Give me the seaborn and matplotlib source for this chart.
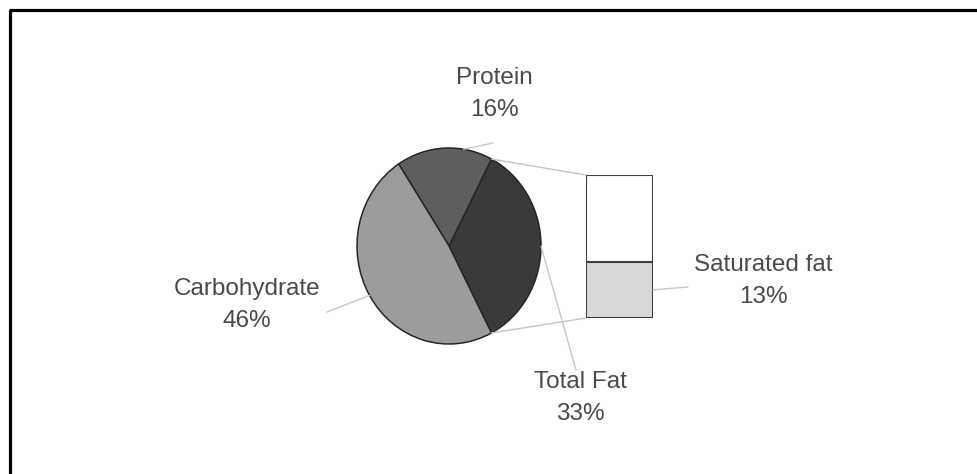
import numpy as np
import pandas as pd
import seaborn as sns
import matplotlib
matplotlib.use("Agg")
import matplotlib.pyplot as plt
from matplotlib.lines import Line2D
from matplotlib.patches import ConnectionPatch

# Energy composition of the diet (percent of calories)
nutrients = ["Total Fat", "Protein", "Carbohydrate"]
shares = [33, 16, 46]
pct_labels = ["33%", "16%", "46%"]

# Breakdown of the fat portion
fat_total = 33
fat_parts = ["Saturated fat", "Other fat"]
fat_values = [13, 20]
sat_label = "13%"

sns.set_theme(style="white")
plt.rcParams["font.family"] = ["Liberation Sans", "DejaVu Sans"]

W, H = 977, 474
fig = plt.figure(figsize=(W / 100, H / 100), dpi=100)
fig.patch.set_facecolor("white")

def px_box(x0, y0, x1, y1):
    """Axes rectangle given in pixel coordinates measured from the top-left."""
    return [x0 / W, 1 - y1 / H, (x1 - x0) / W, (y1 - y0) / H]

pie_colors = ["#3a3a3a", "#5e5e5e", "#9c9c9c"]
ax_pie = fig.add_axes(px_box(357, 148, 541, 344))
start = -360 * shares[0] / sum(shares) / 2
wedges, _ = ax_pie.pie(shares, colors=pie_colors, startangle=start, counterclock=True,
                       wedgeprops=dict(edgecolor="#262626", linewidth=1.1))
ax_pie.set_aspect("auto")
ax_pie.set_xlim(-1.0, 1.0)
ax_pie.set_ylim(-1.0, 1.0)
ax_pie.axis("off")

# Stacked column showing the saturated share of total fat
ax_bar = fig.add_axes(px_box(586, 175, 653, 318))
bar_df = pd.DataFrame({"group": ["fat"], "total": [fat_total], "saturated": [fat_values[0]]})
sns.barplot(data=bar_df, x="group", y="total", color="white", edgecolor="#3e3e3e",
            linewidth=1.5, width=1.0, saturation=1, ax=ax_bar)
sns.barplot(data=bar_df, x="group", y="saturated", color="#d9d9d9", edgecolor="#3e3e3e",
            linewidth=1.5, width=1.0, saturation=1, ax=ax_bar)
ax_bar.set_xlim(-0.5, 0.5)
ax_bar.set_ylim(0, fat_total)
ax_bar.axis("off")

# Lines joining the fat wedge to the column
fat_w = wedges[0]
line_kw = dict(color="#c4c4c4", linewidth=1.0)
for ang, ybar in [(fat_w.theta2, fat_total), (fat_w.theta1, 0)]:
    a = np.deg2rad(ang)
    con = ConnectionPatch(xyA=(np.cos(a), np.sin(a)), coordsA=ax_pie.transData,
                          xyB=(-0.5, ybar), coordsB=ax_bar.transData, **line_kw)
    fig.add_artist(con)

# Category labels with short leader lines
text_kw = dict(fontsize=17.5, color="#4a4a4a", ha="center", va="center", linespacing=1.62)
label_pos = {"Total Fat": (580, 398), "Protein": (494, 94), "Carbohydrate": (247, 305)}
leader_end = {"Total Fat": (576, 370), "Protein": (493, 143), "Carbohydrate": (327, 312)}
leader_angle_shift = {"Total Fat": 0, "Protein": -12, "Carbohydrate": 0}
for w, name, pct in zip(wedges, nutrients, pct_labels):
    mid = np.deg2rad((w.theta1 + w.theta2) / 2 + leader_angle_shift[name])
    ex, ey = leader_end[name]
    ax_pie.annotate("", xy=(np.cos(mid), np.sin(mid)), xycoords="data",
                    xytext=(ex, H - ey), textcoords="figure pixels",
                    arrowprops=dict(arrowstyle="-", color="#c8c8c8", lw=1.0,
                                    shrinkA=0, shrinkB=0))
    tx, ty = label_pos[name]
    fig.text(tx / W, 1 - ty / H, f"{name}\n{pct}", **text_kw)

ax_bar.annotate("", xy=(0.5, fat_values[0] / 2), xycoords="data",
                xytext=(688, H - 287), textcoords="figure pixels",
                arrowprops=dict(arrowstyle="-", color="#c8c8c8", lw=1.0, shrinkA=0, shrinkB=0))
fig.text(763 / W, 1 - 281 / H, f"{fat_parts[0]}\n{sat_label}", **text_kw)

# Frame along the left and top edges
fig.add_artist(Line2D([9.5 / W, 9.5 / W], [0, 1 - 10 / H], color="black", lw=2.3,
                      solid_capstyle="butt", transform=fig.transFigure))
fig.add_artist(Line2D([8.5 / W, 1], [1 - 10 / H, 1 - 10 / H], color="black", lw=2.3,
                      solid_capstyle="butt", transform=fig.transFigure))

fig.savefig("out.png", dpi=100, facecolor="white")
